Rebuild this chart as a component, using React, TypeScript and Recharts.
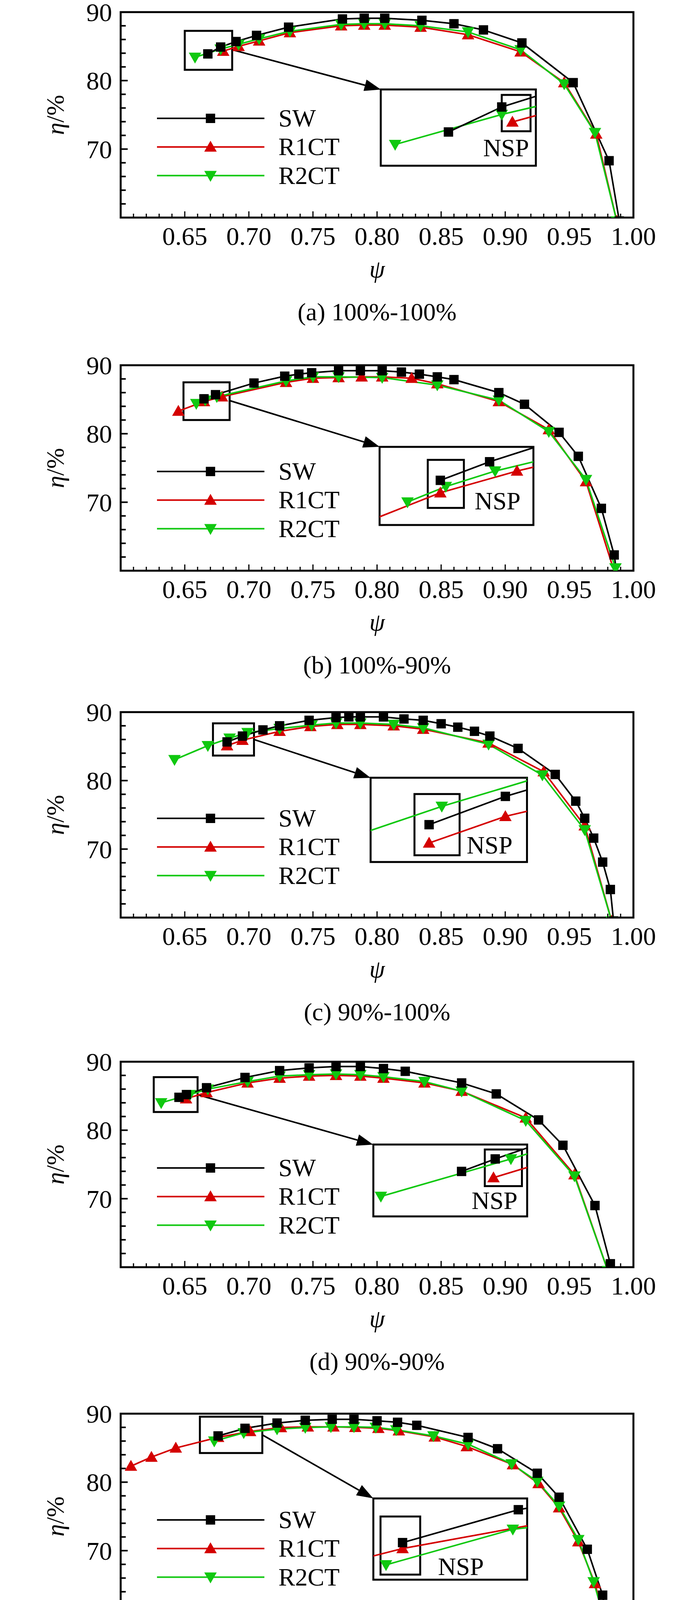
import React from "react"
import {
  Legend,
  Line,
  LineChart,
  ReferenceArea,
  ReferenceLine,
  XAxis,
  YAxis,
} from "recharts"

const SERIF = '"Liberation Serif", "Times New Roman", Times, serif'

// Axis ticks (minor every 0.01 / 2 %, labels only on the majors)
const X_TICKS = [
  0.6, 0.61, 0.62, 0.63, 0.64, 0.65, 0.66, 0.67, 0.68, 0.69, 0.7, 0.71, 0.72, 0.73,
  0.74, 0.75, 0.76, 0.77, 0.78, 0.79, 0.8, 0.81, 0.82, 0.83, 0.84, 0.85, 0.86, 0.87,
  0.88, 0.89, 0.9, 0.91, 0.92, 0.93, 0.94, 0.95, 0.96, 0.97, 0.98, 0.99, 1.0,
]
const X_LABELS = ["0.65", "0.70", "0.75", "0.80", "0.85", "0.90", "0.95", "1.00"]
const Y_TICKS = [60, 62, 64, 66, 68, 70, 72, 74, 76, 78, 80, 82, 84, 86, 88, 90]
const Y_LABELS = ["70", "80", "90"]

// [psi, eta %]
const SW_A = [[0.668, 83.9], [0.678, 84.9], [0.69, 85.7], [0.706, 86.6], [0.731, 87.8], [0.773, 89.0], [0.79, 89.1], [0.806, 89.1], [0.835, 88.8], [0.86, 88.3], [0.883, 87.4], [0.913, 85.5], [0.953, 79.7], [0.981, 68.3], [0.989, 59.5]]
const R1CT_A = [[0.68, 84.3], [0.692, 85.0], [0.708, 85.8], [0.732, 87.0], [0.772, 88.0], [0.79, 88.1], [0.806, 88.1], [0.834, 87.8], [0.871, 86.7], [0.912, 84.2], [0.946, 79.7], [0.971, 72.2], [0.987, 59.5]]
const R2CT_A = [[0.658, 83.4], [0.678, 84.6], [0.692, 85.3], [0.708, 86.1], [0.732, 87.2], [0.772, 88.2], [0.79, 88.3], [0.806, 88.3], [0.834, 88.0], [0.871, 87.1], [0.912, 84.5], [0.946, 79.5], [0.97, 72.4], [0.987, 59.5]]

const SW_B = [[0.665, 85.1], [0.674, 85.7], [0.704, 87.4], [0.728, 88.4], [0.739, 88.7], [0.749, 88.9], [0.77, 89.2], [0.787, 89.2], [0.804, 89.2], [0.819, 89.0], [0.833, 88.7], [0.847, 88.3], [0.86, 87.9], [0.895, 86.0], [0.915, 84.3], [0.942, 80.2], [0.957, 76.7], [0.975, 69.1], [0.985, 62.3], [0.9875, 59.0]]
const R1CT_B = [[0.645, 83.3], [0.665, 84.7], [0.679, 85.4], [0.729, 87.5], [0.75, 88.1], [0.77, 88.2], [0.788, 88.3], [0.804, 88.3], [0.827, 88.1], [0.847, 87.3], [0.895, 84.7], [0.934, 80.6], [0.963, 73.0], [0.9865, 59.0]]
const R2CT_B = [[0.659, 84.4], [0.666, 84.9], [0.675, 85.4], [0.729, 87.7], [0.75, 88.3], [0.77, 88.3], [0.804, 88.2], [0.847, 87.1], [0.895, 84.9], [0.934, 80.3], [0.963, 73.3], [0.986, 60.4], [0.9875, 59.0]]

const SW_C = [[0.683, 85.65], [0.695, 86.5], [0.711, 87.4], [0.724, 88.0], [0.747, 88.8], [0.768, 89.2], [0.778, 89.3], [0.787, 89.3], [0.805, 89.3], [0.821, 89.0], [0.836, 88.8], [0.85, 88.3], [0.863, 87.8], [0.876, 87.2], [0.888, 86.5], [0.91, 84.7], [0.939, 80.9], [0.955, 77.0], [0.962, 74.5], [0.969, 71.6], [0.976, 68.1], [0.982, 64.1], [0.9845, 59.5]]
const R1CT_C = [[0.683, 85.1], [0.695, 85.9], [0.724, 87.2], [0.748, 87.9], [0.769, 88.2], [0.787, 88.2], [0.813, 88.0], [0.836, 87.5], [0.887, 85.5], [0.93, 81.3], [0.962, 73.4], [0.983, 59.5]]
const R2CT_C = [[0.642, 83.05], [0.668, 85.1], [0.685, 86.2], [0.699, 87.0], [0.724, 87.6], [0.749, 88.1], [0.768, 88.4], [0.787, 88.4], [0.813, 88.2], [0.836, 87.7], [0.887, 85.3], [0.929, 80.8], [0.962, 72.8], [0.983, 59.5]]

const SW_D = [[0.6455, 84.8], [0.6513, 85.2], [0.667, 86.2], [0.697, 87.7], [0.724, 88.7], [0.747, 89.1], [0.768, 89.3], [0.787, 89.3], [0.805, 89.0], [0.822, 88.6], [0.866, 86.9], [0.893, 85.3], [0.926, 81.5], [0.945, 77.8], [0.97, 69.0], [0.982, 60.5]]
const R1CT_D = [[0.651, 84.6], [0.667, 85.5], [0.699, 86.9], [0.724, 87.6], [0.747, 87.9], [0.768, 88.0], [0.787, 87.9], [0.805, 87.6], [0.837, 86.9], [0.866, 85.7], [0.916, 81.8], [0.954, 73.5], [0.98, 59.5]]
const R2CT_D = [[0.6316, 84.0], [0.654, 85.2], [0.668, 86.0], [0.699, 87.1], [0.724, 87.9], [0.747, 88.1], [0.768, 88.2], [0.787, 88.1], [0.805, 87.8], [0.837, 87.1], [0.866, 85.7], [0.916, 81.4], [0.954, 73.3], [0.98, 59.5]]

const SW_E = [[0.676, 86.75], [0.697, 87.86], [0.722, 88.63], [0.744, 89.03], [0.765, 89.18], [0.782, 89.18], [0.8, 88.96], [0.816, 88.74], [0.831, 88.3], [0.871, 86.53], [0.894, 84.88], [0.925, 81.3], [0.942, 77.8], [0.964, 70.2], [0.976, 63.5], [0.979, 59.5]]
const R1CT_E = [[0.608, 82.34], [0.624, 83.66], [0.643, 84.99], [0.676, 86.55], [0.701, 87.4], [0.725, 87.97], [0.746, 88.08], [0.766, 88.08], [0.783, 88.0], [0.801, 87.86], [0.817, 87.5], [0.845, 86.6], [0.87, 85.2], [0.906, 82.56], [0.926, 79.8], [0.942, 76.27], [0.957, 71.3], [0.97, 65.2], [0.978, 59.5]]
const R2CT_E = [[0.673, 86.0], [0.696, 87.2], [0.722, 87.75], [0.744, 87.97], [0.764, 88.08], [0.782, 88.08], [0.799, 88.0], [0.815, 87.64], [0.844, 86.75], [0.871, 85.54], [0.905, 82.67], [0.925, 80.1], [0.942, 76.5], [0.957, 71.6], [0.969, 65.45], [0.978, 59.5]]

const SW_F = [[0.6876, 86.1], [0.7105, 87.42], [0.725, 88.08], [0.738, 88.52], [0.75, 88.85], [0.761, 89.03], [0.771, 89.03], [0.791, 89.03], [0.808, 88.8], [0.825, 88.41], [0.841, 87.97], [0.856, 87.2], [0.884, 85.54], [0.919, 81.57], [0.941, 77.64], [0.951, 75.0], [0.959, 71.85], [0.967, 67.77], [0.9745, 63.02], [0.9775, 59.5]]
const R1CT_F = [[0.6816, 85.0], [0.688, 85.5], [0.724, 87.2], [0.7495, 87.8], [0.771, 87.97], [0.791, 87.86], [0.808, 87.5], [0.825, 87.13], [0.854, 86.1], [0.895, 83.8], [0.919, 80.9], [0.941, 76.8], [0.959, 70.75], [0.976, 59.5]]
const R2CT_F = [[0.646, 83.9], [0.654, 84.44], [0.668, 85.43], [0.6874, 86.64], [0.7, 87.2], [0.725, 87.75], [0.75, 88.19], [0.7716, 88.3], [0.791, 88.15], [0.808, 87.86], [0.825, 87.42], [0.855, 86.31], [0.895, 83.1], [0.919, 80.13], [0.941, 76.05], [0.959, 70.0], [0.9737, 61.04], [0.9762, 59.5]]

const SW_G = [[0.6205, 84.53], [0.6276, 85.14], [0.6513, 86.62], [0.671, 87.62], [0.6882, 88.23], [0.7184, 88.83], [0.746, 89.16], [0.771, 89.16], [0.7942, 88.9], [0.8153, 88.39], [0.8526, 86.9], [0.9032, 83.2], [0.932, 79.34], [0.9453, 76.69], [0.9584, 73.27], [0.9697, 69.07], [0.9808, 63.89], [0.9855, 59.5]]
const R1CT_G = [[0.6276, 84.35], [0.6526, 85.74], [0.6882, 87.28], [0.719, 87.95], [0.746, 88.06], [0.771, 87.95], [0.7942, 87.62], [0.8153, 87.06], [0.871, 84.86], [0.9032, 81.99], [0.932, 77.9], [0.958, 71.39], [0.9803, 62.23], [0.983, 59.5]]
const R2CT_G = [[0.6066, 83.53], [0.626, 85.0], [0.6513, 86.4], [0.671, 87.28], [0.6882, 87.84], [0.7184, 88.39], [0.746, 88.39], [0.771, 88.28], [0.7942, 87.84], [0.8153, 87.28], [0.871, 84.3], [0.9032, 81.55], [0.932, 77.46], [0.9584, 70.95], [0.9803, 61.79], [0.9825, 59.5]]

const CAPTIONS = [
  "(a) 100%-100%",
  "(b) 100%-90%",
  "(c) 90%-100%",
  "(d) 90%-90%",
  "(e) 100%-80%",
  "(f) 80%-100%",
  "(g) 80%-80%",
]

type Pt = number[]
type Box = [number, number, number, number] // x1, x2, y1, y2

interface PanelCfg {
  caption: string
  top: number // page y of the plot's top edge
  sw: Pt[]
  r1: Pt[]
  r2: Pt[]
  box: Box // zoomed region (main coords)
  inset: Box // magnified frame (main coords)
  zoomX: [number, number]
  zoomY: [number, number]
  nsp: Box // NSP box (inset coords)
  nspLabel: [number, number] // fraction of the inset: left, baseline
  arrow: [Pt, Pt]
}

const PANELS: PanelCfg[] = [
  { caption: CAPTIONS[0], top: 31, sw: SW_A, r1: R1CT_A, r2: R2CT_A, box: [0.65, 0.687, 81.57, 87.26], inset: [0.803, 0.924, 67.56, 78.7], zoomX: [0.6553, 0.6844], zoomY: [82.55, 85.6], nsp: [0.678, 0.6834, 83.93, 85.38], nspLabel: [0.66, 0.873], arrow: [[0.687, 84.5], [0.803, 78.7]] },
  { caption: CAPTIONS[1], top: 935, sw: SW_B, r1: R1CT_B, r2: R2CT_B, box: [0.649, 0.685, 82.0, 87.5], inset: [0.802, 0.922, 66.7, 78.1], zoomX: [0.6539, 0.682], zoomY: [83.66, 86.18], nsp: [0.6627, 0.6693, 84.21, 85.76], nspLabel: [0.618, 0.8], arrow: [[0.685, 84.84], [0.802, 78.1]] },
  { caption: CAPTIONS[2], top: 1823, sw: SW_C, r1: R1CT_C, r2: R2CT_C, box: [0.672, 0.704, 83.66, 88.36], inset: [0.795, 0.917, 68.1, 80.4], zoomX: [0.6738, 0.6984], zoomY: [84.53, 87.06], nsp: [0.6807, 0.6878, 84.73, 86.57], nspLabel: [0.614, 0.9], arrow: [[0.704, 86.0], [0.795, 80.4]] },
  { caption: CAPTIONS[3], top: 2718, sw: SW_D, r1: R1CT_D, r2: R2CT_D, box: [0.6258, 0.66, 82.65, 87.75], inset: [0.797, 0.917, 67.4, 77.9], zoomX: [0.6303, 0.6568], zoomY: [83.36, 85.66], nsp: [0.6495, 0.6559, 84.33, 85.5], nspLabel: [0.639, 0.894], arrow: [[0.66, 85.18], [0.797, 77.9]] },
  { caption: CAPTIONS[4], top: 3619, sw: SW_E, r1: R1CT_E, r2: R2CT_E, box: [0.6618, 0.7105, 84.26, 89.56], inset: [0.797, 0.917, 65.78, 77.64], zoomX: [0.6707, 0.6986], zoomY: [85.5, 88.24], nsp: [0.672, 0.6792, 85.67, 87.63], nspLabel: [0.42, 0.944], arrow: [[0.7105, 86.9], [0.797, 77.64]] },
  { caption: CAPTIONS[5], top: 4509, sw: SW_F, r1: R1CT_F, r2: R2CT_F, box: [0.6618, 0.6974, 83.07, 88.59], inset: [0.797, 0.917, 67.55, 77.7], zoomX: [0.6655, 0.6914], zoomY: [84.51, 86.93], nsp: [0.6866, 0.6913, 84.85, 86.85], nspLabel: [0.438, 0.674], arrow: [[0.6974, 85.98], [0.797, 77.7]] },
  { caption: CAPTIONS[6], top: 5406, sw: SW_G, r1: R1CT_G, r2: R2CT_G, box: [0.6126, 0.6363, 82.49, 86.84], inset: [0.7947, 0.9032, 66.42, 78.57], zoomX: [0.6075, 0.6313], zoomY: [83.07, 85.75], nsp: [0.6245, 0.6295, 83.8, 85.56], nspLabel: [0.328, 0.29], arrow: [[0.6363, 84.64], [0.7947, 78.57]] },
]

const SERIES = [
  { name: "SW", color: "#000000", marker: "square" },
  { name: "R1CT", color: "#d40000", marker: "up" },
  { name: "R2CT", color: "#10c810", marker: "down" },
]

// geometry of one panel
const CHART_W = 1772
const CHART_H = 870
const PLOT_LEFT = 309
const PLOT_TOP = 31
const PLOT_W = 1313
const PLOT_H = 526
const Y_AXIS_W = 120
const X_AXIS_H = 100
const MARGIN = {
  top: PLOT_TOP,
  left: PLOT_LEFT - Y_AXIS_W,
  right: CHART_W - PLOT_LEFT - PLOT_W,
  bottom: CHART_H - PLOT_TOP - PLOT_H - X_AXIS_H,
}
const X_DOMAIN: [number, number] = [0.6, 1.0]
const Y_DOMAIN: [number, number] = [60, 90]
const TICK_FONT = 66
const TEXT_FONT = 64

// only used to place the magnified overlay on top of its frame
const px = (v: number) => PLOT_LEFT + ((v - X_DOMAIN[0]) / (X_DOMAIN[1] - X_DOMAIN[0])) * PLOT_W
const py = (v: number) => PLOT_TOP + ((Y_DOMAIN[1] - v) / (Y_DOMAIN[1] - Y_DOMAIN[0])) * PLOT_H

const toRows = (pts: Pt[]) => pts.map(([psi, eta]) => ({ psi, eta }))

function Marker({ kind, x, y, color }: { kind: string; x: number; y: number; color: string }) {
  if (kind === "square") return <rect x={x - 12} y={y - 12} width={24} height={24} fill={color} />
  if (kind === "up")
    return <polygon points={`${x},${y - 16} ${x - 16},${y + 12} ${x + 16},${y + 12}`} fill={color} />
  return <polygon points={`${x},${y + 16} ${x - 16},${y - 12} ${x + 16},${y - 12}`} fill={color} />
}

function makeDot(kind: string, color: string) {
  return (p: any) => {
    if (p.cx == null || p.cy == null) return <g key={p.index} />
    return (
      <g key={p.index}>
        <Marker kind={kind} x={p.cx} y={p.cy} color={color} />
      </g>
    )
  }
}

function XTick(p: any) {
  const v = p.payload.value as number
  const label = v.toFixed(2)
  const major = Math.round(v * 100) % 5 === 0
  return (
    <g>
      <line x1={p.x} x2={p.x} y1={p.y} y2={p.y - (major ? 16 : 10)} stroke="#000" strokeWidth={3} />
      {X_LABELS.includes(label) && (
        <text x={p.x} y={p.y + 70} textAnchor="middle" fontSize={TICK_FONT} fontFamily={SERIF} fill="#000">
          {label}
        </text>
      )}
    </g>
  )
}

function YTick(p: any) {
  const v = p.payload.value as number
  const label = String(v)
  const major = v % 10 === 0
  return (
    <g>
      <line x1={p.x} x2={p.x + (major ? 18 : 13)} y1={p.y} y2={p.y} stroke="#000" strokeWidth={4} />
      {Y_LABELS.includes(label) && (
        <text x={p.x - 22} y={p.y + 23} textAnchor="end" fontSize={TICK_FONT} fontFamily={SERIF} fill="#000">
          {label}
        </text>
      )}
    </g>
  )
}

function EtaLabel(p: any) {
  const vb = p.viewBox || {}
  const cy = vb.y != null ? vb.y + vb.height / 2 : PLOT_TOP + PLOT_H / 2
  const x = 163
  return (
    <text
      x={x}
      y={cy}
      transform={`rotate(-90, ${x}, ${cy})`}
      textAnchor="middle"
      fontSize={TEXT_FONT}
      fontFamily={SERIF}
      fill="#000"
    >
      <tspan fontStyle="italic">η</tspan>
      <tspan>/%</tspan>
    </text>
  )
}

function footLabel(caption: string) {
  return (p: any) => {
    const vb = p.viewBox || {}
    const cx = vb.x != null ? vb.x + vb.width / 2 : PLOT_LEFT + PLOT_W / 2
    const y0 = vb.y != null ? vb.y : PLOT_TOP + PLOT_H
    return (
      <g>
        <text x={cx} y={y0 + 153} textAnchor="middle" fontSize={TEXT_FONT} fontStyle="italic" fontFamily={SERIF} fill="#000">
          ψ
        </text>
        <text x={cx} y={y0 + 263} textAnchor="middle" fontSize={TEXT_FONT} fontFamily={SERIF} fill="#000">
          {caption}
        </text>
      </g>
    )
  }
}

/** Arrow from the small box to the magnified frame, head at the second end. */
function ArrowShape(p: any) {
  const { x1, y1, x2, y2 } = p
  const a = Math.atan2(y2 - y1, x2 - x1)
  const len = 42
  const half = 15
  const bx = x2 - len * Math.cos(a)
  const by = y2 - len * Math.sin(a)
  const nx = -Math.sin(a) * half
  const ny = Math.cos(a) * half
  return (
    <g>
      <line x1={x1} y1={y1} x2={bx} y2={by} stroke="#000" strokeWidth={4} />
      <polygon points={`${x2},${y2} ${bx + nx},${by + ny} ${bx - nx},${by - ny}`} fill="#000" />
    </g>
  )
}

function LegendBox() {
  return (
    <svg width={560} height={230} style={{ display: "block", overflow: "visible" }}>
      {SERIES.map((s, i) => {
        const y = 43 + i * 73.3
        return (
          <g key={s.name}>
            <line x1={2} x2={277} y1={y} y2={y} stroke={s.color} strokeWidth={4} />
            <Marker kind={s.marker} x={139} y={y} color={s.color} />
            <text x={313} y={y + 21} fontSize={TEXT_FONT} fontFamily={SERIF} fill="#000">
              {s.name}
            </text>
          </g>
        )
      })}
    </svg>
  )
}

// draw order: red, green, then black on top
function seriesLines(panel: PanelCfg) {
  const rows = [
    { s: SERIES[1], data: panel.r1 },
    { s: SERIES[2], data: panel.r2 },
    { s: SERIES[0], data: panel.sw },
  ]
  return rows.map(({ s, data }) => (
    <Line
      key={s.name}
      name={s.name}
      data={toRows(data)}
      dataKey="eta"
      type="linear"
      stroke={s.color}
      strokeWidth={4}
      dot={makeDot(s.marker, s.color)}
      activeDot={false}
      isAnimationActive={false}
    />
  ))
}

function Inset({ panel }: { panel: PanelCfg }) {
  const [x1, x2, y1, y2] = panel.inset
  const left = px(x1)
  const top = py(y2)
  const w = px(x2) - left
  const h = py(y1) - top
  const pad = 4
  const [n1, n2, n3, n4] = panel.nsp
  return (
    <div style={{ position: "absolute", left: left - pad, top: top - pad, width: w + 2 * pad, height: h + 2 * pad }}>
      <LineChart width={w + 2 * pad} height={h + 2 * pad} margin={{ top: pad, right: pad, bottom: pad, left: pad }}>
        <XAxis type="number" dataKey="psi" domain={panel.zoomX} allowDataOverflow hide />
        <YAxis type="number" domain={panel.zoomY} allowDataOverflow hide />
        {seriesLines(panel)}
        <ReferenceArea x1={n1} x2={n2} y1={n3} y2={n4} fill="none" stroke="#000" strokeWidth={5} ifOverflow="visible" />
        <ReferenceArea
          x1={panel.zoomX[0]}
          x2={panel.zoomX[1]}
          y1={panel.zoomY[0]}
          y2={panel.zoomY[1]}
          fill="none"
          stroke="#000"
          strokeWidth={5}
          ifOverflow="visible"
        />
      </LineChart>
      <svg
        width={w}
        height={h}
        style={{ position: "absolute", left: pad, top: pad, overflow: "visible", pointerEvents: "none" }}
      >
        <text x={panel.nspLabel[0] * w} y={panel.nspLabel[1] * h} fontSize={TEXT_FONT} fontFamily={SERIF} fill="#000">
          NSP
        </text>
      </svg>
    </div>
  )
}

function Panel({ panel }: { panel: PanelCfg }) {
  const [b1, b2, b3, b4] = panel.box
  const [i1, i2, i3, i4] = panel.inset
  const [from, to] = panel.arrow
  return (
    <div style={{ position: "absolute", left: 0, top: panel.top - PLOT_TOP, width: CHART_W, height: CHART_H }}>
      <LineChart width={CHART_W} height={CHART_H} margin={MARGIN}>
        <XAxis
          type="number"
          dataKey="psi"
          domain={X_DOMAIN}
          ticks={X_TICKS}
          interval={0}
          allowDataOverflow
          axisLine={false}
          tickLine={false}
          tickSize={0}
          tickMargin={0}
          height={X_AXIS_H}
          tick={XTick}
          label={{ content: footLabel(panel.caption) }}
        />
        <YAxis
          type="number"
          domain={Y_DOMAIN}
          ticks={Y_TICKS}
          interval={0}
          allowDataOverflow
          axisLine={false}
          tickLine={false}
          tickSize={0}
          tickMargin={0}
          width={Y_AXIS_W}
          tick={YTick}
          label={{ content: EtaLabel }}
        />
        <ReferenceArea x1={i1} x2={i2} y1={i3} y2={i4} fill="#fff" fillOpacity={1} stroke="none" ifOverflow="visible" />
        <ReferenceArea x1={b1} x2={b2} y1={b3} y2={b4} fill="none" stroke="#000" strokeWidth={5} ifOverflow="visible" />
        <ReferenceLine
          segment={[
            { x: from[0], y: from[1] },
            { x: to[0], y: to[1] },
          ]}
          ifOverflow="visible"
          shape={ArrowShape}
        />
        {seriesLines(panel)}
        <ReferenceArea
          x1={X_DOMAIN[0]}
          x2={X_DOMAIN[1]}
          y1={Y_DOMAIN[0]}
          y2={Y_DOMAIN[1]}
          fill="none"
          stroke="#000"
          strokeWidth={5}
          ifOverflow="visible"
        />
        <Legend
          layout="vertical"
          align="center"
          verticalAlign="middle"
          content={<LegendBox />}
          wrapperStyle={{ left: 400, top: 260, width: 560, height: 230 }}
        />
      </LineChart>
      <Inset panel={panel} />
    </div>
  )
}

export default function App() {
  return (
    <div
      style={{
        position: "absolute",
        left: 0,
        top: 0,
        width: CHART_W,
        height: 6213,
        background: "#fff",
        fontFamily: SERIF,
      }}
    >
      {PANELS.map((p) => (
        <Panel key={p.caption} panel={p} />
      ))}
    </div>
  )
}
